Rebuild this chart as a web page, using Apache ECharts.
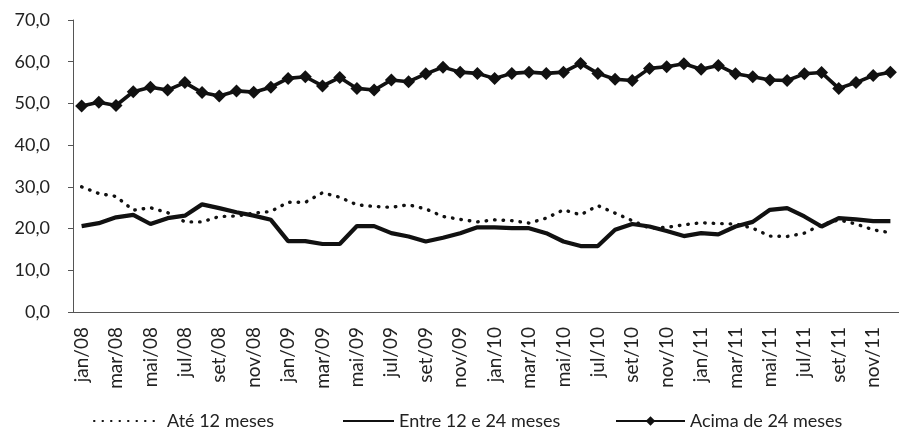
<!DOCTYPE html>
<html>
<head>
<meta charset="utf-8">
<script src="https://cdn.jsdelivr.net/npm/echarts@6/dist/echarts.min.js"></script>
<style>
html,body{margin:0;padding:0;background:#fff;}
#c{width:899px;height:432px;}
</style>
</head>
<body>
<div id="c"></div>
<script>
const categories = [
  'jan/08','fev/08','mar/08','abr/08','mai/08','jun/08','jul/08','ago/08','set/08','out/08','nov/08','dez/08',
  'jan/09','fev/09','mar/09','abr/09','mai/09','jun/09','jul/09','ago/09','set/09','out/09','nov/09','dez/09',
  'jan/10','fev/10','mar/10','abr/10','mai/10','jun/10','jul/10','ago/10','set/10','out/10','nov/10','dez/10',
  'jan/11','fev/11','mar/11','abr/11','mai/11','jun/11','jul/11','ago/11','set/11','out/11','nov/11','dez/11'
];
const ate12 = [30.0, 28.4, 27.7, 24.4, 25.0, 23.8, 21.6, 21.6, 22.9, 23.0, 23.7, 24.1,
  26.3, 26.3, 28.6, 27.5, 25.7, 25.3, 25.1, 25.7, 24.7, 22.9, 22.2, 21.6,
  22.1, 21.9, 21.3, 22.5, 24.5, 23.3, 25.5, 23.7, 21.9, 20.1, 20.3, 20.9,
  21.4, 21.2, 21.1, 20.1, 18.2, 18.1, 18.9, 20.9, 22.1, 21.1, 19.7, 19.0];
const entre12e24 = [20.6, 21.3, 22.7, 23.3, 21.1, 22.5, 23.1, 25.8, 24.9, 23.9, 23.1, 22.1,
  17.0, 17.0, 16.3, 16.3, 20.6, 20.6, 18.9, 18.1, 16.9, 17.8, 18.9, 20.3,
  20.3, 20.1, 20.1, 18.9, 16.9, 15.8, 15.8, 19.7, 21.1, 20.5, 19.4, 18.2,
  18.9, 18.6, 20.5, 21.6, 24.5, 24.9, 22.9, 20.5, 22.5, 22.2, 21.8, 21.8];
const acima24 = [49.4, 50.3, 49.5, 52.8, 53.9, 53.2, 55.0, 52.6, 51.8, 53.0, 52.7, 53.9,
  56.0, 56.4, 54.2, 56.2, 53.6, 53.2, 55.6, 55.2, 57.1, 58.7, 57.5, 57.2,
  56.0, 57.2, 57.5, 57.2, 57.5, 59.6, 57.2, 55.8, 55.5, 58.4, 58.8, 59.5,
  58.2, 59.1, 57.1, 56.4, 55.6, 55.5, 57.1, 57.4, 53.6, 55.0, 56.7, 57.5];
const seriesNames = ['Até 12 meses', 'Entre 12 e 24 meses', 'Acima de 24 meses'];

const font = 'Lato, "Open Sans", sans-serif';
const txt = {fontFamily: font, fontSize: 18, color: '#222'};
const chart = echarts.init(document.getElementById('c'), null, {renderer: 'canvas'});
const legendBase = {
  orient: 'horizontal', top: 412, itemHeight: 12, selectedMode: false,
  textStyle: Object.assign({}, txt), itemGap: 0, padding: 0
};
const hiddenMark = {color: 'rgba(0,0,0,0)', borderWidth: 0, opacity: 0};
chart.setOption({
  animation: false,
  backgroundColor: '#fff',
  grid: {left: 73, top: 20, width: 837, height: 292, containLabel: false},
  legend: [
    Object.assign({}, legendBase, {left: 93, itemWidth: 68, data: [{name: seriesNames[0], itemStyle: hiddenMark}]}),
    Object.assign({}, legendBase, {left: 342, itemWidth: 51, data: [{name: seriesNames[1], itemStyle: hiddenMark}]}),
    Object.assign({}, legendBase, {left: 615, itemWidth: 69, data: [seriesNames[2]]})
  ],
  xAxis: {
    type: 'category', data: categories, boundaryGap: true,
    axisLine: {lineStyle: {color: '#555', width: 1}},
    axisTick: {interval: 1, length: 5, lineStyle: {color: '#555'}},
    axisLabel: Object.assign({}, txt, {fontSize: 19, interval: 1, rotate: 90, margin: 15})
  },
  yAxis: {
    type: 'value', min: 0, max: 70, interval: 10,
    splitLine: {show: false},
    axisLine: {show: true, lineStyle: {color: '#555', width: 1}},
    axisTick: {show: true, length: 5, lineStyle: {color: '#555'}},
    axisLabel: Object.assign({}, txt, {margin: 23, formatter: v => v.toFixed(1).replace('.', ',')})
  },
  series: [
    {name: seriesNames[0], type: 'line', data: ate12, symbol: 'none',
     lineStyle: {color: '#111', width: 3.4, type: [0.5, 8], cap: 'round'}, itemStyle: {color: '#111'}},
    {name: seriesNames[1], type: 'line', data: entre12e24, symbol: 'none',
     lineStyle: {color: '#111', width: 4.2}, itemStyle: {color: '#111'}},
    {name: seriesNames[2], type: 'line', data: acima24, symbol: 'diamond', symbolSize: 13,
     showAllSymbol: true,
     lineStyle: {color: '#111', width: 3.6}, itemStyle: {color: '#111'}}
  ]
});
</script>
</body>
</html>
